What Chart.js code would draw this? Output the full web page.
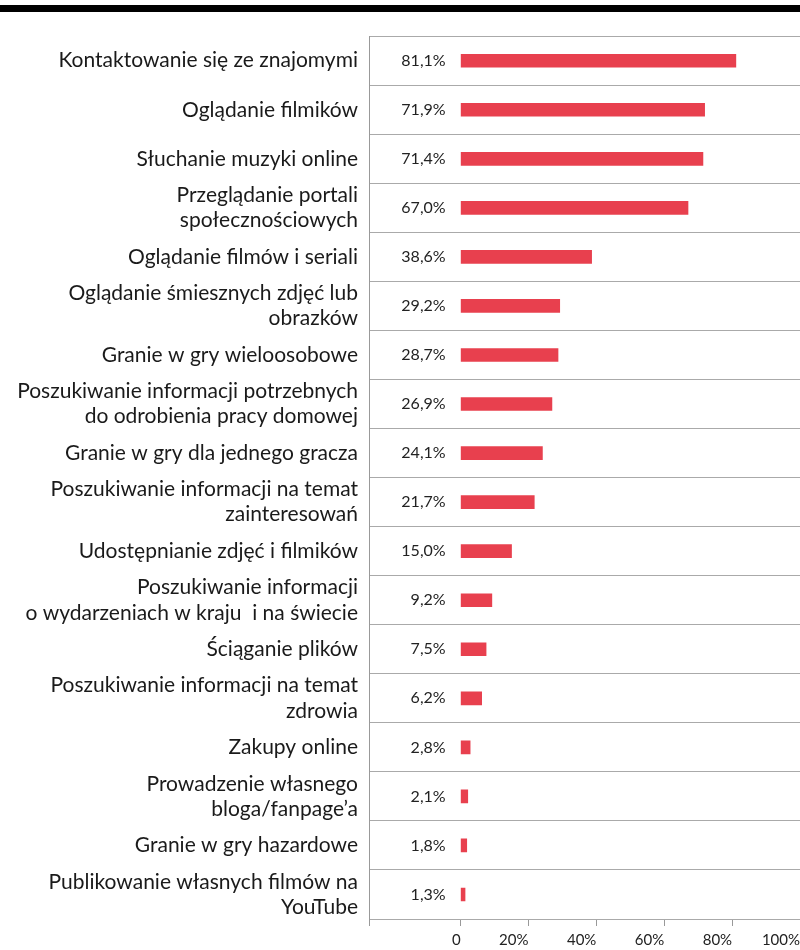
<!DOCTYPE html>
<html>
<head>
<meta charset="utf-8">
<script src="https://cdn.jsdelivr.net/npm/chart.js@4"></script>
<style>
    body { margin: 0; background: #fff; }
    #wrap { position: relative; width: 800px; height: 950px; overflow: hidden; }
    #pasek { position: absolute; left: 0; top: 5px; width: 800px; height: 7px; background: #000; }
    canvas { position: absolute; left: 0; top: 0; }
</style>
</head>
<body>
<div id="wrap">
    <div id="pasek"></div>
    <canvas id="wykres" width="800" height="950"></canvas>
</div>
<script>
// kategorie (wiele linii = tablica)
const kategorie = [
    "Kontaktowanie się ze znajomymi",
    "Oglądanie filmików",
    "Słuchanie muzyki online",
    ["Przeglądanie portali", "społecznościowych"],
    "Oglądanie filmów i seriali",
    ["Oglądanie śmiesznych zdjęć lub", "obrazków"],
    "Granie w gry wieloosobowe",
    ["Poszukiwanie informacji potrzebnych", "do odrobienia pracy domowej"],
    "Granie w gry dla jednego gracza",
    ["Poszukiwanie informacji na temat", "zainteresowań"],
    "Udostępnianie zdjęć i filmików",
    ["Poszukiwanie informacji", "o wydarzeniach w kraju  i na świecie"],
    "Ściąganie plików",
    ["Poszukiwanie informacji na temat", "zdrowia"],
    "Zakupy online",
    ["Prowadzenie własnego", "bloga/fanpage’a"],
    "Granie w gry hazardowe",
    ["Publikowanie własnych filmów na", "YouTube"]
];

const wartosci = [81.1, 71.9, 71.4, 67.0, 38.6, 29.2, 28.7, 26.9, 24.1, 21.7, 15.0, 9.2, 7.5, 6.2, 2.8, 2.1, 1.8, 1.3];

const ticksOsi = [0, 20, 40, 60, 80, 100];
const minOsi = -27;

const etykietyWartosci = {
    id: "etykietyWartosci",
    afterDatasetsDraw(chart) {
        const ctx = chart.ctx;
        const x0 = chart.scales.x.getPixelForValue(0) - 15;
        ctx.save();
        ctx.font = "16px Lato";
        ctx.fillStyle = "#222";
        ctx.textAlign = "right";
        ctx.textBaseline = "middle";
        chart.getDatasetMeta(0).data.forEach((bar, i) => {
            ctx.fillText(wartosci[i].toFixed(1).replace(".", ",") + "%", x0, bar.y);
        });
        ctx.restore();
    }
};

const ctx = document.getElementById("wykres").getContext("2d");
new Chart(ctx, {
    type: "bar",
    data: {
        labels: kategorie,
        datasets: [{
            data: wartosci,
            backgroundColor: "#E8404E",
            barThickness: 13
        }]
    },
    options: {
        indexAxis: "y",
        responsive: false,
        animation: false,
        layout: { padding: { top: 33, right: 0, left: 0, bottom: 0 } },
        plugins: {
            legend: { display: false },
            tooltip: { enabled: false }
        },
        scales: {
            x: {
                min: minOsi,
                max: 100,
                afterBuildTicks: (scale) => {
                    scale.ticks = [{ value: minOsi }].concat(ticksOsi.map(v => ({ value: v })));
                },
                afterFit: (scale) => {
                    scale.height = 31;
                    scale.paddingRight = 0;
                    scale.paddingLeft = 0;
                },
                border: { display: false },
                grid: {
                    drawOnChartArea: false,
                    drawTicks: true,
                    tickLength: 7,
                    color: "#999"
                },
                ticks: {
                    align: "end",
                    padding: 5,
                    maxRotation: 0,
                    autoSkip: false,
                    color: "#222",
                    font: { family: "Lato", size: 15 },
                    callback: (v) => v === minOsi ? "" : (v === 0 ? "0" : v + "%")
                }
            },
            y: {
                afterFit: (scale) => { scale.width = 369; },
                border: { display: true, color: "#999", width: 1 },
                grid: {
                    offset: true,
                    drawTicks: false,
                    color: (c) => c.index === kategorie.length ? "rgba(0,0,0,0)" : "#aaa"
                },
                ticks: {
                    padding: 11,
                    autoSkip: false,
                    color: "#1a1a1a",
                    font: { family: "Lato", size: 21, lineHeight: 1.2 }
                }
            }
        }
    },
    plugins: [etykietyWartosci]
});
</script>
</body>
</html>
